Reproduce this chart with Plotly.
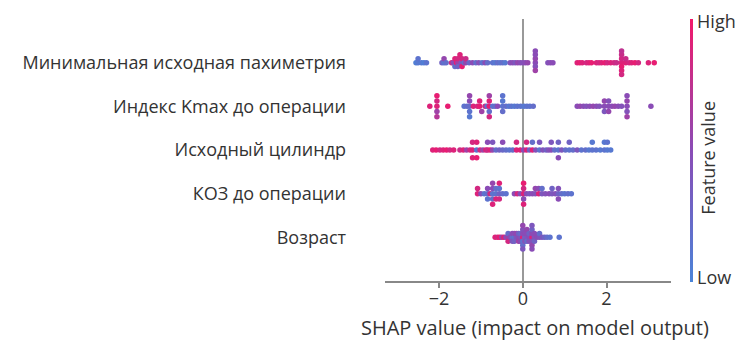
import numpy as np
import plotly.graph_objects as go

features = [
    "Минимальная исходная пахиметрия",
    "Индекс Kmax до операции",
    "Исходный цилиндр",
    "КОЗ до операции",
    "Возраст",
]

# SHAP values and normalised feature values (0 = low, 1 = high) per feature
shap_pach = [-2.55, -2.5, -2.5, -2.42, -2.36, -2.3,
             -1.93, -1.88, -1.88, -1.83,
             -1.7, -1.66, -1.62, -1.62, -1.58, -1.55, -1.55, -1.55, -1.5, -1.47, -1.45, -1.45, -1.4, -1.36, -1.36,
             -1.28, -1.2, -1.12, -1.05, -0.97, -0.9, -0.84,
             -0.72, -0.66, -0.6, -0.54, -0.48, -0.42,
             -0.3, -0.24, -0.18, -0.12, -0.06, 0.0, 0.06, 0.12,
             0.3, 0.3, 0.3, 0.3, 0.3, 0.3,
             0.6, 0.66, 0.72,
             1.3, 1.36, 1.42, 1.52, 1.58, 1.64, 1.76, 1.82, 1.88, 1.96, 2.02, 2.1, 2.18, 2.24,
             2.36, 2.36, 2.36, 2.36, 2.36, 2.36, 2.36,
             2.46, 2.46, 2.54, 2.6, 2.68, 2.76, 3.0, 3.14]
feat_pach = [0.05, 0.1, 0.15, 0.1, 0.05, 0.15,
             0.3, 0.15, 0.55, 0.2,
             0.85, 0.5, 0.9, 0.2, 0.95, 0.6, 0.85, 0.3, 0.9, 0.4, 0.85, 0.95, 0.2, 0.55, 0.8,
             0.25, 0.5, 0.2, 0.45, 0.15, 0.5, 0.2,
             0.15, 0.1, 0.2, 0.15, 0.2, 0.1,
             0.45, 0.5, 0.4, 0.55, 0.5, 0.45, 0.5, 0.55,
             0.5, 0.55, 0.45, 0.5, 0.6, 0.5,
             0.45, 0.5, 0.5,
             0.9, 0.95, 0.9, 0.85, 0.9, 0.95, 0.9, 0.85, 0.9, 0.95, 0.85, 0.9, 0.85, 0.8,
             0.9, 0.85, 0.95, 0.8, 0.9, 0.75, 0.85,
             0.9, 0.8, 0.85, 0.9, 0.95, 0.85, 0.9, 0.95]

shap_kmax = [-2.22, -2.05, -2.05, -2.05, -2.05, -2.05, -1.79,
             -1.4, -1.33, -1.27, -1.27, -1.27, -1.27, -1.27, -1.18, -1.08, -1.03, -1.03, -0.98, -0.9, -0.85,
             -0.8, -0.8, -0.8, -0.8, -0.8, -0.72, -0.66, -0.6, -0.48, -0.48, -0.48, -0.48, -0.4, -0.33, -0.27,
             -0.2, -0.13, -0.05, 0.03, 0.1, 0.17, 0.25,
             1.3, 1.37, 1.45, 1.52, 1.6, 1.68, 1.76, 1.83, 1.95, 1.95, 1.95, 2.05, 2.05, 2.05, 2.13, 2.2,
             2.28, 2.36, 2.49, 2.49, 2.49, 2.49, 2.49, 3.06]
feat_kmax = [0.9, 0.9, 0.85, 0.6, 0.95, 0.7, 0.95,
             0.15, 0.2, 0.2, 0.5, 0.15, 0.55, 0.1, 0.9, 0.85, 0.95, 0.9, 0.6, 0.8, 0.15,
             0.95, 0.9, 0.2, 0.6, 0.85, 0.15, 0.2, 0.5, 0.15, 0.1, 0.2, 0.15, 0.2, 0.1, 0.15,
             0.1, 0.15, 0.15, 0.1, 0.15, 0.15, 0.2,
             0.5, 0.55, 0.5, 0.45, 0.5, 0.55, 0.5, 0.45, 0.5, 0.55, 0.4, 0.5, 0.45, 0.55, 0.5, 0.55,
             0.5, 0.45, 0.5, 0.55, 0.45, 0.5, 0.6, 0.5]

shap_cyl = [-2.15, -2.07, -1.98, -1.9, -1.82, -1.74, -1.65,
            -1.5, -1.42, -1.34, -1.26, -1.2, -1.2, -1.2, -1.1, -1.1, -1.1, -1.02, -0.95, -0.88,
            -0.84, -0.84, -0.78, -0.72, -0.72, -0.64, -0.56, -0.48, -0.48, -0.4, -0.32, -0.24,
            -0.15, -0.15, -0.06, 0.02, 0.09, 0.09, 0.16, 0.23, 0.23, 0.31, 0.4, 0.4, 0.48, 0.56,
            0.62, 0.68, 0.68, 0.76, 0.85, 0.85, 0.85, 0.93, 1.02, 1.11, 1.11, 1.2, 1.3, 1.4, 1.5,
            1.58, 1.66, 1.66, 1.75, 1.85, 1.95, 1.95, 2.02, 2.02, 2.1]
feat_cyl = [0.9, 0.95, 0.85, 0.9, 0.95, 0.85, 0.9,
            0.8, 0.9, 0.6, 0.85, 0.9, 0.85, 0.9, 0.15, 0.9, 0.95, 0.85, 0.6, 0.9,
            0.8, 0.5, 0.9, 0.55, 0.4, 0.2, 0.3, 0.25, 0.5, 0.2, 0.15, 0.2,
            0.9, 0.85, 0.9, 0.5, 0.9, 0.85, 0.3, 0.9, 0.2, 0.45, 0.15, 0.4, 0.45, 0.3,
            0.45, 0.5, 0.4, 0.2, 0.15, 0.3, 0.5, 0.4, 0.2, 0.15, 0.3, 0.2, 0.4, 0.15, 0.2,
            0.1, 0.15, 0.1, 0.15, 0.1, 0.15, 0.1, 0.1, 0.15, 0.1]

shap_koz = [-1.08, -1.08, -1.0, -0.92, -0.84, -0.84, -0.84, -0.78, -0.72, -0.72, -0.72, -0.72, -0.72,
            -0.64, -0.64, -0.64, -0.56, -0.56, -0.56, -0.56, -0.48, -0.4,
            -0.2, -0.13, -0.06, 0.02, 0.02, 0.02, 0.02, 0.02, 0.09, 0.16, 0.23, 0.3, 0.3, 0.38, 0.38,
            0.46, 0.46, 0.54, 0.63, 0.7, 0.7, 0.78, 0.85, 0.85, 0.85, 0.93, 1.0, 1.08, 1.16]
feat_koz = [0.9, 0.85, 0.5, 0.15, 0.2, 0.5, 0.15, 0.85, 0.15, 0.5, 0.2, 0.55, 0.9,
            0.15, 0.2, 0.9, 0.3, 0.15, 0.85, 0.9, 0.2, 0.15,
            0.5, 0.85, 0.5, 0.9, 0.85, 0.5, 0.95, 0.9, 0.5, 0.4, 0.5, 0.45, 0.55, 0.9, 0.5,
            0.4, 0.2, 0.45, 0.5, 0.4, 0.3, 0.45, 0.3, 0.45, 0.5, 0.2, 0.15, 0.2, 0.15]

shap_age = [-0.66, -0.6, -0.55, -0.5, -0.45, -0.4, -0.35, -0.35, -0.35, -0.3, -0.25, -0.25, -0.25,
            -0.2, -0.2, -0.2, -0.15, -0.15, -0.1, -0.1, -0.1, -0.05, -0.05, -0.05,
            0.0, 0.0, 0.0, 0.0, 0.0, 0.0, 0.0, 0.05, 0.05, 0.05, 0.1, 0.1, 0.1, 0.1,
            0.15, 0.15, 0.15, 0.22, 0.22, 0.22, 0.22, 0.22, 0.22, 0.22, 0.28, 0.28, 0.28,
            0.34, 0.4, 0.4, 0.46, 0.52, 0.58, 0.65, 0.87]
feat_age = [0.9, 0.85, 0.95, 0.6, 0.9, 0.5, 0.6, 0.2, 0.85, 0.5, 0.2, 0.5, 0.4,
            0.15, 0.5, 0.3, 0.4, 0.55, 0.5, 0.3, 0.6, 0.45, 0.2, 0.5,
            0.9, 0.5, 0.15, 0.45, 0.2, 0.55, 0.4, 0.3, 0.5, 0.45, 0.4, 0.5, 0.2, 0.55,
            0.5, 0.3, 0.45, 0.9, 0.5, 0.45, 0.3, 0.55, 0.4, 0.5, 0.45, 0.5, 0.3,
            0.5, 0.45, 0.2, 0.4, 0.3, 0.2, 0.15, 0.15]

x_ticks = [-2, 0, 2]
x_tick_labels = ["\u22122", "0", "2"]

rows = [(shap_pach, feat_pach), (shap_kmax, feat_kmax), (shap_cyl, feat_cyl),
        (shap_koz, feat_koz), (shap_age, feat_age)]

colorscale = [[0.0, "#4a84d8"], [0.5, "#8a4cb6"], [1.0, "#f2186a"]]


def beeswarm_offsets(vals, nbins=100, row_height=0.4):
    s = np.asarray(vals, dtype=float)
    quant = np.round(nbins * (s - s.min()) / (s.max() - s.min() + 1e-8))
    inds = np.argsort(quant, kind="stable")
    ys = np.zeros(len(s))
    layer, last = 0, None
    for i in inds:
        if quant[i] != last:
            layer = 0
        ys[i] = np.ceil(layer / 2) * ((layer % 2) * 2 - 1)
        layer += 1
        last = quant[i]
    ys *= 0.9 * (row_height / np.max(ys + 1))
    return ys


PLOT_L, PLOT_R = 385, 672

fig = go.Figure()
n = len(rows)
for k, (sv, fv) in enumerate(rows):
    pos = n - 1 - k
    ys = pos + beeswarm_offsets(sv)
    fig.add_trace(go.Scatter(
        x=sv, y=ys, mode="markers", showlegend=False, hoverinfo="skip",
        marker=dict(size=5.5, color=fv, cmin=0, cmax=1, colorscale=colorscale,
                    line=dict(width=0),
                    showscale=(k == 0),
                    colorbar=dict(thickness=3, len=263, lenmode="pixels",
                                  y=1, yanchor="top", yref="paper",
                                  x=(690 - PLOT_L) / (PLOT_R - PLOT_L), xanchor="left",
                                  xpad=0, ypad=0,
                                  outlinewidth=0, tickvals=[0.018, 0.99], ticktext=["Low", "High"],
                                  ticks="", ticklen=0,
                                  tickfont=dict(size=18, color="#333"))),
    ))

fig.add_annotation(text="Feature value", xref="paper", yref="paper",
                   x=(723 - PLOT_L) / (PLOT_R - PLOT_L), y=0.47, textangle=-90, showarrow=False,
                   font=dict(size=18, color="#333"))
fig.add_annotation(text="SHAP value (impact on model output)", xref="paper", yref="paper",
                   x=(536 - PLOT_L) / (PLOT_R - PLOT_L), y=-(327 - 281) / 262,
                   yanchor="middle", showarrow=False, borderpad=0,
                   font=dict(size=20, color="#333"))

fig.update_layout(
    width=743, height=340,
    margin=dict(l=PLOT_L, r=743 - PLOT_R, t=19, b=59),
    paper_bgcolor="white", plot_bgcolor="white",
    font=dict(family="Open Sans", size=18, color="#333"),
)
fig.update_xaxes(range=[-3.29, 3.54], tickvals=x_ticks, ticktext=x_tick_labels,
                 showgrid=False, zeroline=True, zerolinecolor="#999", zerolinewidth=1.5,
                 showline=True, linecolor="#888", linewidth=1.5,
                 ticks="outside", ticklen=5, tickcolor="#888", tickwidth=1.5,
                 ticklabelstandoff=-4,
                 tickfont=dict(size=18, color="#333"))
fig.update_yaxes(range=[-1, 5], tickvals=list(range(n)), ticktext=features[::-1],
                 showgrid=False, zeroline=False, showline=False, ticks="",
                 ticklabelstandoff=38, tickfont=dict(size=18, color="#333"))

fig.write_html("out.html")
